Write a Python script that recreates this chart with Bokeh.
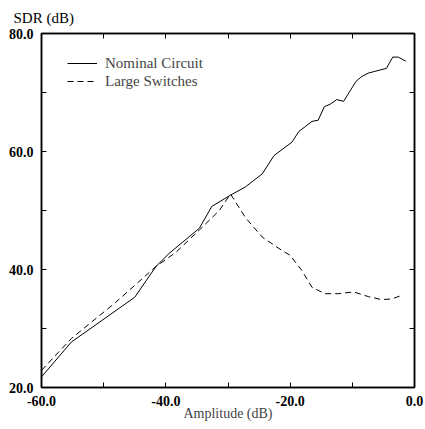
from bokeh.plotting import figure
from bokeh.models import LinearAxis, FixedTicker, Legend, LegendItem, Range1d
from bokeh.embed import file_html
from bokeh.resources import INLINE

# ---- data ----
amp_nominal = [-60.0, -55.2, -45.0, -41.6, -39.5, -34.6, -32.6, -29.6, -27.2, -24.5,
               -22.6, -19.7, -18.6, -17.6, -16.5, -15.5, -14.5, -13.6, -12.5, -11.4,
               -9.4, -8.5, -7.4, -6.3, -4.5, -3.5, -2.6, -1.4]
sdr_nominal = [21.8, 27.7, 35.3, 40.5, 42.7, 47.0, 50.7, 52.6, 54.0, 56.2,
               59.3, 61.6, 63.4, 64.2, 65.1, 65.3, 67.6, 68.0, 68.8, 68.5,
               71.9, 72.7, 73.3, 73.6, 74.1, 76.0, 76.0, 75.3]

amp_large = [-60.0, -55.2, -48.1, -41.6, -38.4, -34.6, -31.4, -29.6, -27.2, -24.5,
             -21.3, -20.0, -18.1, -16.5, -14.4, -12.2, -9.8, -7.4, -5.3, -3.7, -1.8]
sdr_large = [22.9, 28.3, 34.4, 40.5, 42.9, 46.7, 50.0, 52.8, 48.8, 45.5,
             43.2, 42.4, 39.8, 37.0, 35.9, 35.9, 36.2, 35.4, 34.9, 35.0, 35.7]

x_ticks = [-60, -50, -40, -30, -20, -10, 0]
x_tick_labels = {-60: "-60.0", -50: "", -40: "-40.0", -30: "", -20: "-20.0", -10: "", 0: "0.0"}
y_ticks = [20, 30, 40, 50, 60, 70, 80]
y_tick_labels = {20: "20.0", 30: "", 40: "40.0", 50: "", 60: "60.0", 70: "", 80: "80.0"}

series_names = ["Nominal Circuit", "Large Switches"]
x_title = "Amplitude (dB)"
y_title = "SDR (dB)"

FONT = "Liberation Serif"
FRAME_W = 1.5

p = figure(width=425, height=429, x_range=Range1d(-60, 0), y_range=Range1d(20, 80),
           output_backend="svg", toolbar_location=None,
           x_axis_location=None, y_axis_location=None,
           min_border_left=41, min_border_right=11, min_border_top=33, min_border_bottom=42)
p.background_fill_color = "white"
p.border_fill_color = "white"
p.outline_line_color = "black"
p.outline_line_width = FRAME_W
p.xgrid.visible = False
p.ygrid.visible = False

# y-axis title sits above the frame, flush left
p.title.text = y_title
p.title.align = "left"
p.title.vertical_align = "top"
p.title.offset = -28
p.title.standoff = 12
p.title.text_font = FONT
p.title.text_font_size = "15px"
p.title.text_font_style = "normal"
p.title.text_color = "black"


def make_axis(ticks, overrides, show):
    ax = LinearAxis(ticker=FixedTicker(ticks=ticks))
    ax.major_tick_in = 5
    ax.major_tick_out = 0
    ax.minor_tick_in = 0
    ax.minor_tick_out = 0
    ax.axis_line_color = "black"
    ax.axis_line_width = FRAME_W
    ax.major_tick_line_color = "black"
    if show:
        ax.major_label_overrides = overrides
        ax.major_label_text_font = FONT
        ax.major_label_text_font_size = "14px"
        ax.major_label_text_font_style = "bold"
        ax.major_label_text_color = "black"
    else:
        ax.major_label_overrides = {t: "" for t in ticks}
        ax.major_label_text_font_size = "0px"
        ax.major_label_standoff = 0
    return ax


xb = make_axis(x_ticks, x_tick_labels, True)
xb.major_label_standoff = 8
xb.axis_label = x_title
xb.axis_label_text_font = FONT
xb.axis_label_text_font_size = "14px"
xb.axis_label_text_font_style = "normal"
xb.axis_label_standoff = -3
p.add_layout(xb, "below")

yl = make_axis(y_ticks, y_tick_labels, True)
yl.major_label_standoff = 8
p.add_layout(yl, "left")

p.add_layout(make_axis(x_ticks, {}, False), "above")
p.add_layout(make_axis(y_ticks, {}, False), "right")

r1 = p.line(amp_nominal, sdr_nominal, line_color="black", line_width=1)
r2 = p.line(amp_large, sdr_large, line_color="black", line_width=1, line_dash="6 4")

legend = Legend(items=[LegendItem(label=series_names[0], renderers=[r1]),
                       LegendItem(label=series_names[1], renderers=[r2])],
                location=(26, 297))
legend.border_line_alpha = 0
legend.background_fill_alpha = 0
legend.glyph_width = 30
legend.glyph_height = 18
legend.label_height = 18
legend.spacing = -2
legend.padding = 0
legend.margin = 0
legend.label_standoff = 8
legend.label_text_font = FONT
legend.label_text_font_size = "15px"
p.add_layout(legend)

open("out.html", "w").write(file_html(p, INLINE))
